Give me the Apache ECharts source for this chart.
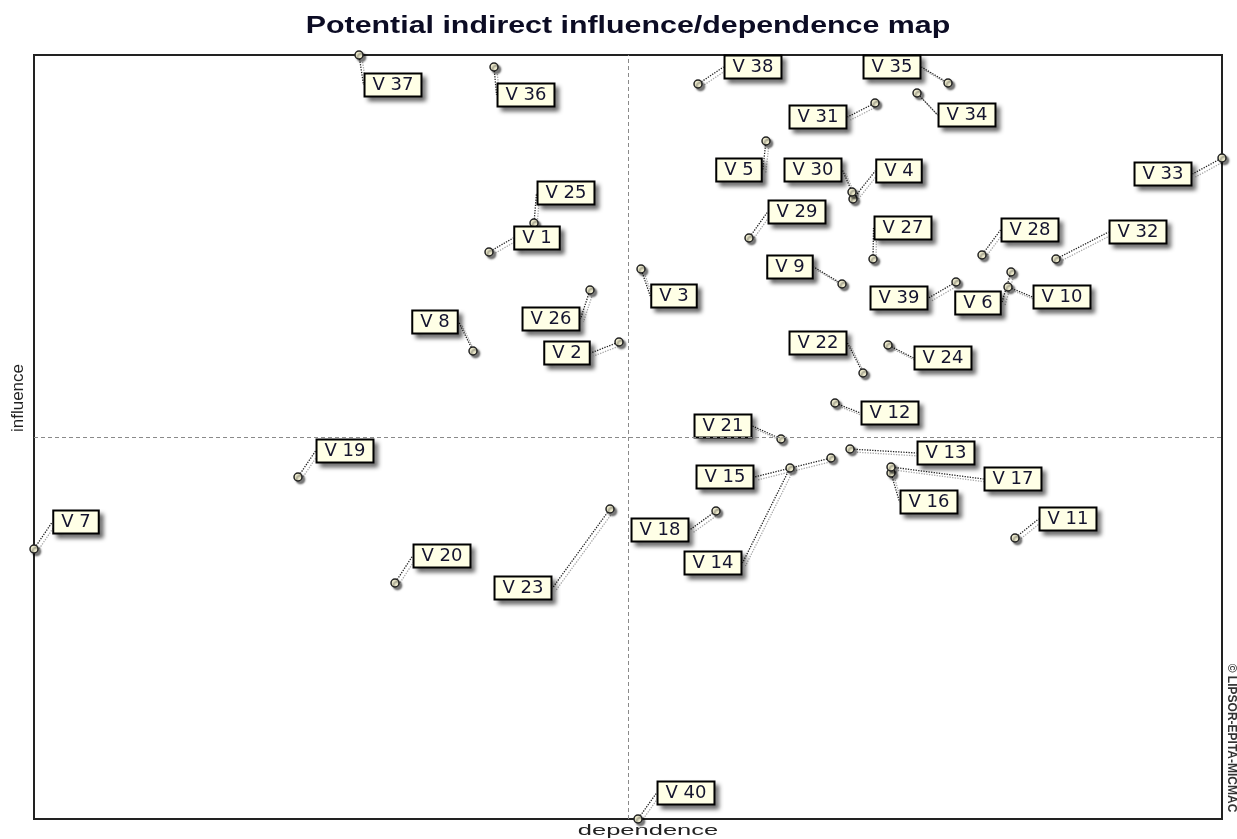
<!DOCTYPE html>
<html>
<head>
<meta charset="utf-8">
<title>Potential indirect influence/dependence map</title>
<script src="https://cdn.jsdelivr.net/npm/echarts/dist/echarts.min.js"></script>
<style>
  html, body { margin: 0; padding: 0; background: #fff; }
  #chart { width: 1237px; height: 839px; }
</style>
</head>
<body>
<div id="chart"></div>
<script>
// ---------- DATA ----------
const TITLE = 'Potential indirect influence/dependence map';
const X_NAME = 'dependence';
const Y_NAME = 'influence';
const WATERMARK = '\u00A9 LIPSOR-EPITA-MICMAC';

const variables = ['V 1','V 2','V 3','V 4','V 5','V 6','V 7','V 8','V 9','V 10',
  'V 11','V 12','V 13','V 14','V 15','V 16','V 17','V 18','V 19','V 20',
  'V 21','V 22','V 23','V 24','V 25','V 26','V 27','V 28','V 29','V 30',
  'V 31','V 32','V 33','V 34','V 35','V 36','V 37','V 38','V 39','V 40'];

const dependence = [455, 585, 607, 819, 732, 977, 0, 439, 808, 974,
  981, 801, 816, 756, 797, 857, 857, 682, 264, 361,
  747, 829, 576, 854, 500, 556, 839, 948, 715, 818,
  841, 1022, 1188, 883, 914, 460, 325, 664, 922, 604];

const influence = [567, 477, 550, 620, 678, 547, 270, 468, 535, 532,
  281, 416, 370, 351, 361, 346, 352, 308, 342, 236,
  380, 446, 310, 474, 596, 529, 560, 564, 581, 627,
  716, 560, 661, 726, 736, 752, 764, 735, 537, 0];

const depRange = [0, 1188];
const infRange = [0, 764];
const meanDependence = 594;
const meanInfluence = 382;

// ---------- LAYOUT (label placement, px offsets from each point) ----------
const labelOffsets = [
  [48,-14], [-52,11], [33,27], [46,-28], [-27,29], [-33,31], [42,-27], [-38,-29], [-52,-17], [54,10],
  [53,-19], [55,10], [96,4], [-77,95], [-106,19], [38,29], [122,12], [-56,19], [47,-26], [47,-27],
  [-58,-13], [-45,-30], [-87,79], [55,13], [32,-30], [-39,29], [30,-31], [48,-25], [48,-26], [-39,-22],
  [-57,14], [82,-27], [-59,16], [50,22], [-56,-16], [32,28], [34,30], [55,-17], [-57,16], [48,-26]
];

const seriesData = variables.map((n, i) => ({ name: n, value: [dependence[i], influence[i]] }));

const chart = echarts.init(document.getElementById('chart'), null, { renderer: 'canvas' });

chart.setOption({
  backgroundColor: '#ffffff',
  animation: false,
  grid: {
    left: 34, right: 15, top: 55, bottom: 20,
    show: true, borderColor: '#222', borderWidth: 2, backgroundColor: '#fff'
  },
  xAxis: {
    type: 'value', min: depRange[0], max: depRange[1],
    axisLine: { show: false }, axisTick: { show: false },
    axisLabel: { show: false }, splitLine: { show: false }
  },
  yAxis: {
    type: 'value', min: infRange[0], max: infRange[1],
    axisLine: { show: false }, axisTick: { show: false },
    axisLabel: { show: false }, splitLine: { show: false }
  },
  graphic: [
    { type: 'text', x: 628, y: 27, scaleX: 1.32, z: 10,
      style: { text: TITLE, font: 'bold 23px "Liberation Sans", Arial, sans-serif',
        fill: '#0c0c24', align: 'center', verticalAlign: 'middle',
        textAlign: 'center', textVerticalAlign: 'middle' } },
    { type: 'text', x: 648, y: 831, scaleX: 1.7, z: 10,
      style: { text: X_NAME, font: '15px "Liberation Sans", Arial, sans-serif',
        fill: '#222', align: 'center', verticalAlign: 'middle',
        textAlign: 'center', textVerticalAlign: 'middle' } },
    { type: 'text', x: 18, y: 398, rotation: Math.PI / 2, z: 10,
      style: { text: Y_NAME, font: '17px "Liberation Sans", Arial, sans-serif',
        fill: '#222', align: 'center', verticalAlign: 'middle',
        textAlign: 'center', textVerticalAlign: 'middle' } },
    { type: 'text', x: 1231, y: 738, rotation: -Math.PI / 2, z: 10,
      style: { text: WATERMARK, font: 'bold 12px "Liberation Sans", Arial, sans-serif',
        fill: '#333', align: 'center', verticalAlign: 'middle',
        textAlign: 'center', textVerticalAlign: 'middle' } }
  ],
  series: [{
    type: 'scatter',
    data: seriesData,
    clip: false,
    symbol: 'circle',
    symbolSize: 8,
    itemStyle: {
      opacity: 1,
      color: '#f3f0d2', borderColor: '#222', borderWidth: 1.5,
      shadowColor: 'rgba(0,0,0,0.5)', shadowBlur: 2, shadowOffsetX: 2.5, shadowOffsetY: 2.5
    },
    label: {
      show: true,
      opacity: 1,
      position: 'inside',
      formatter: '{b}',
      fontFamily: '"DejaVu Sans", Arial, sans-serif',
      fontSize: 18,
      lineHeight: 17,
      color: '#14142e',
      textBorderWidth: 0,
      backgroundColor: '#ffffe6',
      borderColor: '#000',
      borderWidth: 2,
      padding: [3, 7, 1, 7],
      shadowColor: 'rgba(0,0,0,0.45)',
      shadowBlur: 4,
      shadowOffsetX: 4,
      shadowOffsetY: 4
    },
    labelLine: {
      show: true,
      lineStyle: {
        opacity: 1,
        color: '#222', width: 1.3, type: 'dotted',
        shadowColor: 'rgba(0,0,0,0.35)', shadowOffsetX: 3, shadowOffsetY: 3
      }
    },
    labelLayout: function (p) {
      const o = labelOffsets[p.dataIndex];
      return { dx: o[0], dy: o[1] };
    },
    emphasis: { disabled: true },
    markLine: {
      silent: true,
      symbol: 'none',
      label: { show: false },
      lineStyle: { color: '#8a8a8a', type: [4, 3], width: 1, opacity: 1 },
      data: [{ xAxis: meanDependence }, { yAxis: meanInfluence }]
    }
  }]
});
</script>
</body>
</html>
